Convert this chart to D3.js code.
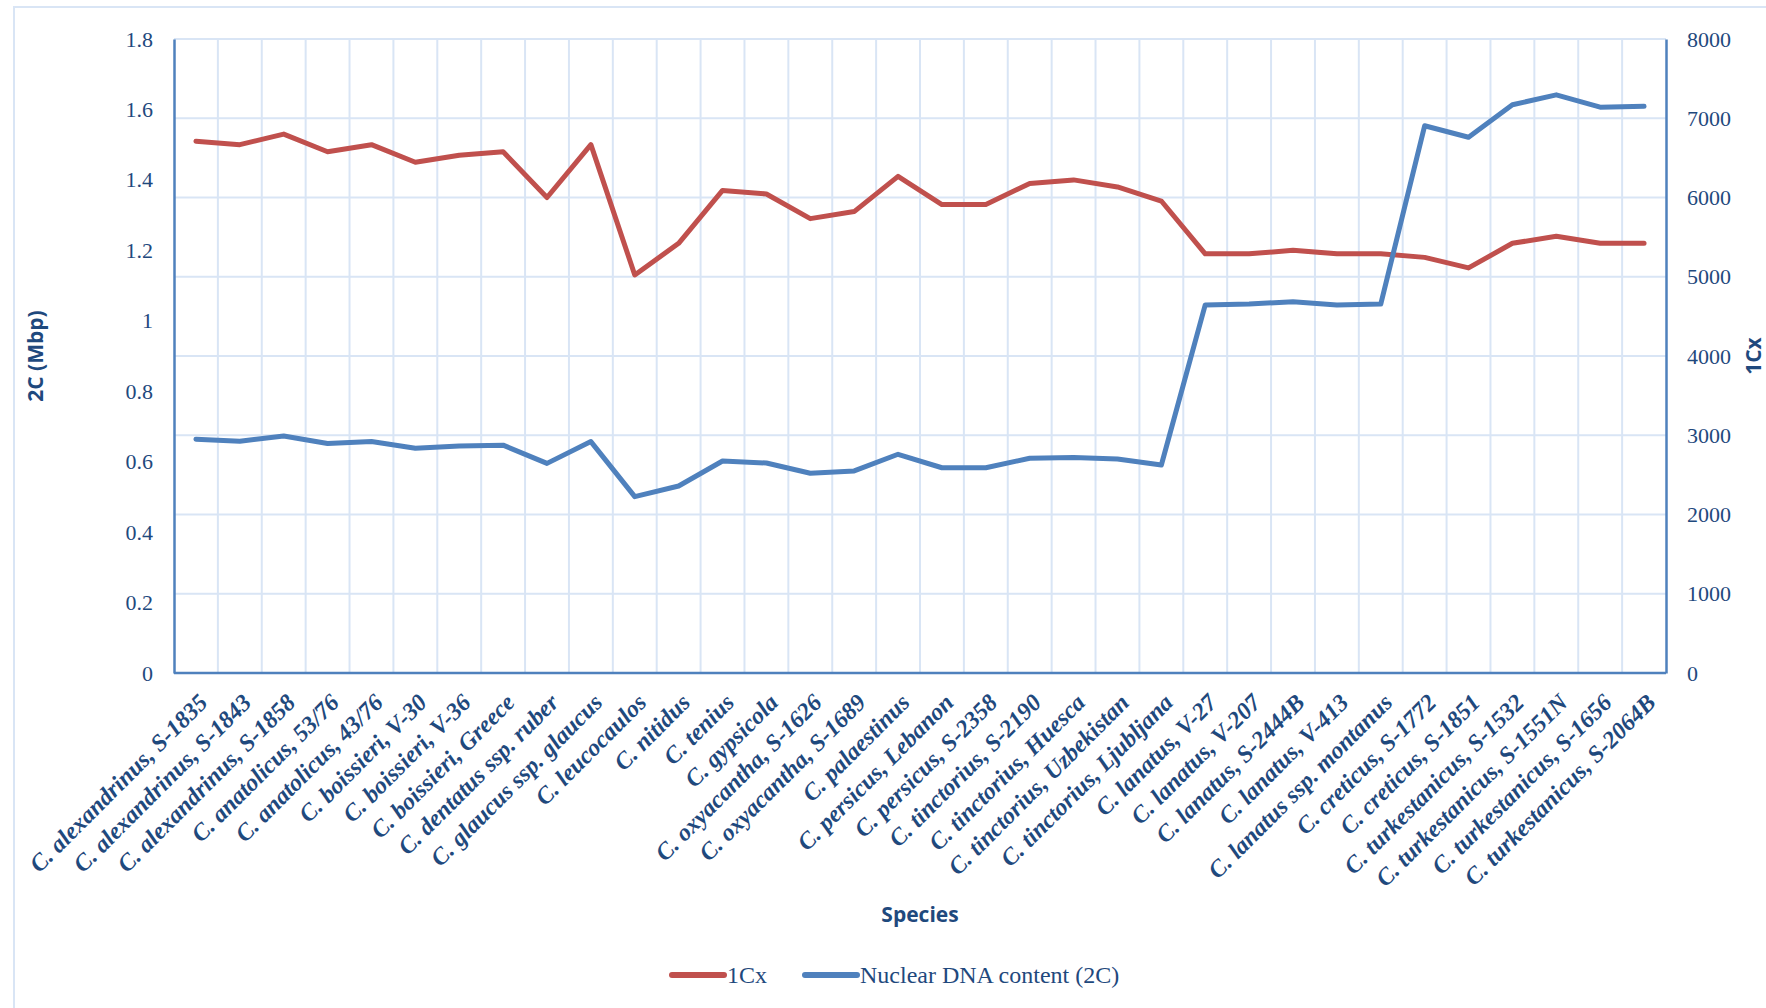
<!DOCTYPE html>
<html>
<head>
<meta charset="utf-8">
<script src="https://cdn.jsdelivr.net/npm/d3@7"></script>
<style>
  body { margin: 0; background: #fff; }
  svg { display: block; }
</style>
</head>
<body>
<div id="chart"></div>
<script>
// species on the x axis
const species = [
  "C. alexandrinus, S-1835", "C. alexandrinus, S-1843", "C. alexandrinus, S-1858",
  "C. anatolicus, 53/76", "C. anatolicus, 43/76", "C. boissieri, V-30",
  "C. boissieri, V-36", "C. boissieri, Greece", "C. dentatus ssp. ruber",
  "C. glaucus ssp. glaucus", "C. leucocaulos", "C. nitidus", "C. tenius",
  "C. gypsicola", "C. oxyacantha, S-1626", "C. oxyacantha, S-1689",
  "C. palaestinus", "C. persicus, Lebanon", "C. persicus, S-2358",
  "C. tinctorius, S-2190", "C. tinctorius, Huesca", "C. tinctorius, Uzbekistan",
  "C. tinctorius, Ljubljana", "C. lanatus, V-27", "C. lanatus, V-207",
  "C. lanatus, S-2444B", "C. lanatus, V-413", "C. lanatus ssp. montanus",
  "C. creticus, S-1772", "C. creticus, S-1851", "C. turkestanicus, S-1532",
  "C. turkestanicus, S-1551N", "C. turkestanicus, S-1656", "C. turkestanicus, S-2064B"
];

// 1Cx (left axis)
const oneCx = [
  1.51, 1.50, 1.53, 1.48, 1.50, 1.45, 1.47, 1.48, 1.35, 1.50,
  1.13, 1.22, 1.37, 1.36, 1.29, 1.31, 1.41, 1.33, 1.33, 1.39,
  1.40, 1.38, 1.34, 1.19, 1.19, 1.20, 1.19, 1.19, 1.18, 1.15,
  1.22, 1.24, 1.22, 1.22
];

// Nuclear DNA content 2C (right axis)
const dna2C = [
  2950, 2925, 2990, 2895, 2920, 2835, 2865, 2875, 2645, 2920,
  2225, 2360, 2675, 2650, 2520, 2550, 2760, 2590, 2590, 2710,
  2720, 2700, 2625, 4645, 4655, 4685, 4645, 4655, 6905, 6760,
  7170, 7295, 7140, 7150
];

const leftTicks = [0, 0.2, 0.4, 0.6, 0.8, 1, 1.2, 1.4, 1.6, 1.8];
const rightTicks = [0, 1000, 2000, 3000, 4000, 5000, 6000, 7000, 8000];

const W = 1766, H = 1008;
const margin = { top: 39, right: 100, bottom: 335, left: 174 };
const innerW = W - margin.left - margin.right;
const innerH = H - margin.top - margin.bottom;

const red = "#c0504d", blue = "#4f81bd", textCol = "#1f497d", grid = "#d9e5f5";
const serif = "'Liberation Serif', 'Times New Roman', serif";

const svg = d3.select("#chart").append("svg")
  .attr("width", W).attr("height", H);

// outer chart border
svg.append("rect")
  .attr("x", 14).attr("y", 7)
  .attr("width", W).attr("height", H)
  .attr("fill", "none").attr("stroke", grid).attr("stroke-width", 2);

const g = svg.append("g").attr("transform", `translate(${margin.left},${margin.top})`);

const x = d3.scaleBand().domain(species).range([0, innerW]).padding(0);
const yL = d3.scaleLinear().domain([0, 1.8]).range([innerH, 0]);
const yR = d3.scaleLinear().domain([0, 8000]).range([innerH, 0]);

// horizontal gridlines from the right axis
g.append("g").selectAll("line")
  .data(rightTicks.slice(1))
  .join("line")
  .attr("x1", 0).attr("x2", innerW)
  .attr("y1", d => yR(d)).attr("y2", d => yR(d))
  .attr("stroke", grid).attr("stroke-width", 2);

// vertical gridlines between categories
g.append("g").selectAll("line")
  .data(species.slice(1))
  .join("line")
  .attr("x1", d => x(d)).attr("x2", d => x(d))
  .attr("y1", 0).attr("y2", innerH)
  .attr("stroke", grid).attr("stroke-width", 2);

// left axis
const axL = g.append("g").call(d3.axisLeft(yL).tickValues(leftTicks).tickSize(0).tickPadding(21).tickFormat(d3.format("")));
// right axis
const axR = g.append("g").attr("transform", `translate(${innerW},0)`)
  .call(d3.axisRight(yR).tickValues(rightTicks).tickSize(0).tickPadding(21).tickFormat(d3.format("d")));
[axL, axR].forEach(a => {
  a.select(".domain").attr("stroke", blue).attr("stroke-width", 2.5);
  a.selectAll("text")
    .attr("font-family", serif)
    .attr("font-size", 22).attr("fill", textCol);
});

// bottom axis line
g.append("line")
  .attr("x1", 0).attr("x2", innerW)
  .attr("y1", innerH).attr("y2", innerH)
  .attr("stroke", blue).attr("stroke-width", 2.5);

// x labels, rotated
g.append("g").selectAll("text")
  .data(species)
  .join("text")
  .attr("transform", d => `translate(${x(d) + x.bandwidth() / 2 + 13},${innerH + 31}) rotate(-45)`)
  .attr("text-anchor", "end")
  .attr("font-family", serif)
  .attr("font-style", "italic")
  .attr("font-weight", "bold")
  .attr("font-size", 24)
  .attr("fill", textCol)
  .text(d => d);

// lines
const lineL = d3.line().x((d, i) => x(species[i]) + x.bandwidth() / 2).y(d => yL(d));
const lineR = d3.line().x((d, i) => x(species[i]) + x.bandwidth() / 2).y(d => yR(d));

g.append("path").datum(oneCx)
  .attr("d", lineL).attr("fill", "none")
  .attr("stroke", red).attr("stroke-width", 5).attr("stroke-linejoin", "round").attr("stroke-linecap", "round");
g.append("path").datum(dna2C)
  .attr("d", lineR).attr("fill", "none")
  .attr("stroke", blue).attr("stroke-width", 5).attr("stroke-linejoin", "round").attr("stroke-linecap", "round");

// axis titles
svg.append("text")
  .attr("transform", `translate(43,${margin.top + innerH / 2}) rotate(-90)`)
  .attr("text-anchor", "middle")
  .attr("font-family", "'Open Sans', sans-serif").attr("font-weight", "bold")
  .attr("font-size", 21).attr("fill", textCol)
  .text("2C (Mbp)");

svg.append("text")
  .attr("transform", `translate(1761,${margin.top + innerH / 2}) rotate(-90)`)
  .attr("text-anchor", "middle")
  .attr("font-family", "'Open Sans', sans-serif").attr("font-weight", "bold")
  .attr("font-size", 21).attr("fill", textCol)
  .text("1Cx");

svg.append("text")
  .attr("x", margin.left + innerW / 2).attr("y", 922)
  .attr("text-anchor", "middle")
  .attr("font-family", "'Open Sans', sans-serif").attr("font-weight", "bold")
  .attr("font-size", 21).attr("fill", textCol)
  .text("Species");

// legend
const legend = [
  { name: "1Cx", color: red, x: 672 },
  { name: "Nuclear DNA content (2C)", color: blue, x: 805 }
];
const lg = svg.append("g").selectAll("g").data(legend).join("g")
  .attr("transform", d => `translate(${d.x},975)`);
lg.append("line")
  .attr("x1", 0).attr("x2", 52).attr("y1", 0).attr("y2", 0)
  .attr("stroke", d => d.color).attr("stroke-width", 6).attr("stroke-linecap", "round");
lg.append("text")
  .attr("x", 55).attr("y", 8)
  .attr("font-family", serif)
  .attr("font-size", 24).attr("fill", textCol)
  .text(d => d.name);
</script>
</body>
</html>
